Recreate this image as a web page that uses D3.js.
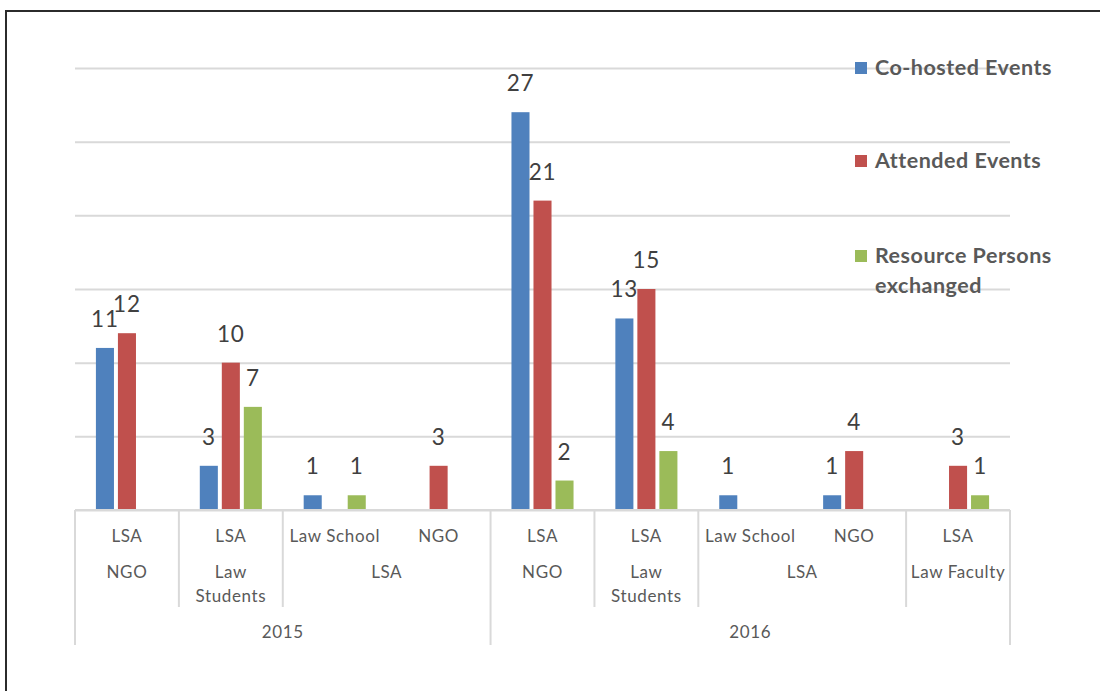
<!DOCTYPE html>
<html>
<head>
<meta charset="utf-8">
<script src="https://cdn.jsdelivr.net/npm/d3@7/dist/d3.min.js"></script>
<style>
  html, body { margin: 0; padding: 0; background: #fff; }
  svg { display: block; }
</style>
</head>
<body>
<svg id="chart" width="1100" height="691"></svg>
<script>
// Partnership activities by year and partner type
const series = ["Co-hosted Events", "Attended Events", "Resource Persons exchanged"];
const leafLabels = ["LSA", "LSA", "Law School", "NGO", "LSA", "LSA", "Law School", "NGO", "LSA"];
const midLabels = [["NGO"], ["Law", "Students"], ["LSA"], ["NGO"], ["Law", "Students"], ["LSA"], ["Law Faculty"]];
const midSpans = [1, 1, 2, 1, 1, 2, 1];
const yearLabels = ["2015", "2016"];
const yearSpans = [4, 5];
const cohosted = [11, 3, 1, 0, 27, 13, 1, 1, 0];
const attended = [12, 10, 0, 3, 21, 15, 0, 4, 3];
const resource = [0, 7, 1, 0, 2, 4, 0, 0, 1];
const yTicks = [0, 5, 10, 15, 20, 25, 30];

const colors = ["#4F81BD", "#C0504D", "#9BBB59"];
const valueSets = [cohosted, attended, resource];

const svg = d3.select("#chart");
const plotLeft = 75, plotRight = 1010, plotTop = 68, plotBase = 510;
const font = "Lato, 'Open Sans', sans-serif";

// Frame
svg.append("path")
  .attr("d", "M1100,11 H6 V691")
  .attr("fill", "none").attr("stroke", "#2b2b2b").attr("stroke-width", 2);

const x0 = d3.scaleBand().domain(d3.range(leafLabels.length)).range([plotLeft, plotRight]).padding(0);
const x1 = d3.scaleBand().domain(d3.range(series.length)).range([0, x0.bandwidth()])
  .paddingInner(0.18).paddingOuter(0.95);
const y = d3.scaleLinear().domain([0, 30]).range([plotBase, plotTop]);

// Gridlines
const grid = svg.append("g").attr("transform", `translate(${plotLeft},0)`)
  .call(d3.axisLeft(y).tickValues(yTicks).tickSize(-(plotRight - plotLeft)).tickFormat(""));
grid.select(".domain").remove();
grid.selectAll(".tick line").attr("stroke", "#d9d9d9").attr("stroke-width", 2);

// Bars and value labels
const rows = leafLabels.map((_, i) => valueSets.map((vs, s) => ({ i, s, v: vs[i] })));
const groups = svg.append("g").selectAll("g").data(rows).join("g")
  .attr("transform", (d, i) => `translate(${x0(i)},0)`);

groups.selectAll("rect").data(d => d.filter(e => e.v > 0)).join("rect")
  .attr("x", d => x1(d.s))
  .attr("width", x1.bandwidth())
  .attr("y", d => y(d.v))
  .attr("height", d => y(0) - y(d.v))
  .attr("fill", d => colors[d.s]);

groups.selectAll("text").data(d => d.filter(e => e.v > 0)).join("text")
  .attr("x", d => x1(d.s) + x1.bandwidth() / 2)
  .attr("y", d => y(d.v) - 21)
  .attr("text-anchor", "middle")
  .attr("font-family", font).attr("font-size", 22.5).attr("letter-spacing", 0.8)
  .attr("fill", "#404040")
  .text(d => d.v);

// Multi-level category axis
const axis = svg.append("g");
const lineColor = "#d9d9d9";
axis.append("line").attr("x1", plotLeft).attr("x2", plotRight).attr("y1", plotBase).attr("y2", plotBase)
  .attr("stroke", lineColor).attr("stroke-width", 2);

const labelStyle = sel => sel.attr("text-anchor", "middle")
  .attr("font-family", font).attr("font-size", 17).attr("letter-spacing", 0.6)
  .attr("fill", "#595959");

axis.selectAll("text.leaf").data(leafLabels).join("text").attr("class", "leaf")
  .attr("x", (d, i) => x0(i) + x0.bandwidth() / 2)
  .attr("y", 542)
  .call(labelStyle)
  .text(d => d);

const midStarts = midSpans.map((s, k) => d3.sum(midSpans.slice(0, k)));
const yearStarts = yearSpans.map((s, k) => d3.sum(yearSpans.slice(0, k)));
const edge = k => k >= leafLabels.length ? plotRight : x0(k);

midLabels.forEach((lines, k) => {
  const cx = (edge(midStarts[k]) + edge(midStarts[k] + midSpans[k])) / 2;
  const t = axis.append("text").attr("y", 578).call(labelStyle);
  lines.forEach((ln, j) => t.append("tspan").attr("x", cx).attr("dy", j ? 24 : 0).text(ln));
});

yearLabels.forEach((lab, k) => {
  const cx = (edge(yearStarts[k]) + edge(yearStarts[k] + yearSpans[k])) / 2;
  axis.append("text").attr("x", cx).attr("y", 638).call(labelStyle).text(lab);
});

// Dividers: short between partner groups, long between years
const longEdges = new Set(yearStarts.concat([leafLabels.length]));
const dividerIdx = Array.from(new Set(midStarts.concat([leafLabels.length])));
axis.selectAll("line.div").data(dividerIdx).join("line").attr("class", "div")
  .attr("x1", d => edge(d)).attr("x2", d => edge(d))
  .attr("y1", plotBase)
  .attr("y2", d => longEdges.has(d) ? 645 : 607)
  .attr("stroke", lineColor).attr("stroke-width", 2);

// Legend
const legendLines = [["Co-hosted Events"], ["Attended Events"], ["Resource Persons", "exchanged"]];
const legendY = [68, 161, 256];
const legend = svg.append("g");
legendLines.forEach((lines, s) => {
  legend.append("rect").attr("x", 855).attr("y", legendY[s] - 6)
    .attr("width", 12).attr("height", 12).attr("fill", colors[s]);
  const t = legend.append("text")
    .attr("font-family", font).attr("font-size", 21.5).attr("font-weight", "bold")
    .attr("letter-spacing", 0.5)
    .attr("fill", "#595959").attr("y", legendY[s] + 7);
  lines.forEach((ln, j) => t.append("tspan").attr("x", 875).attr("dy", j ? 30 : 0).text(ln));
});
</script>
</body>
</html>
